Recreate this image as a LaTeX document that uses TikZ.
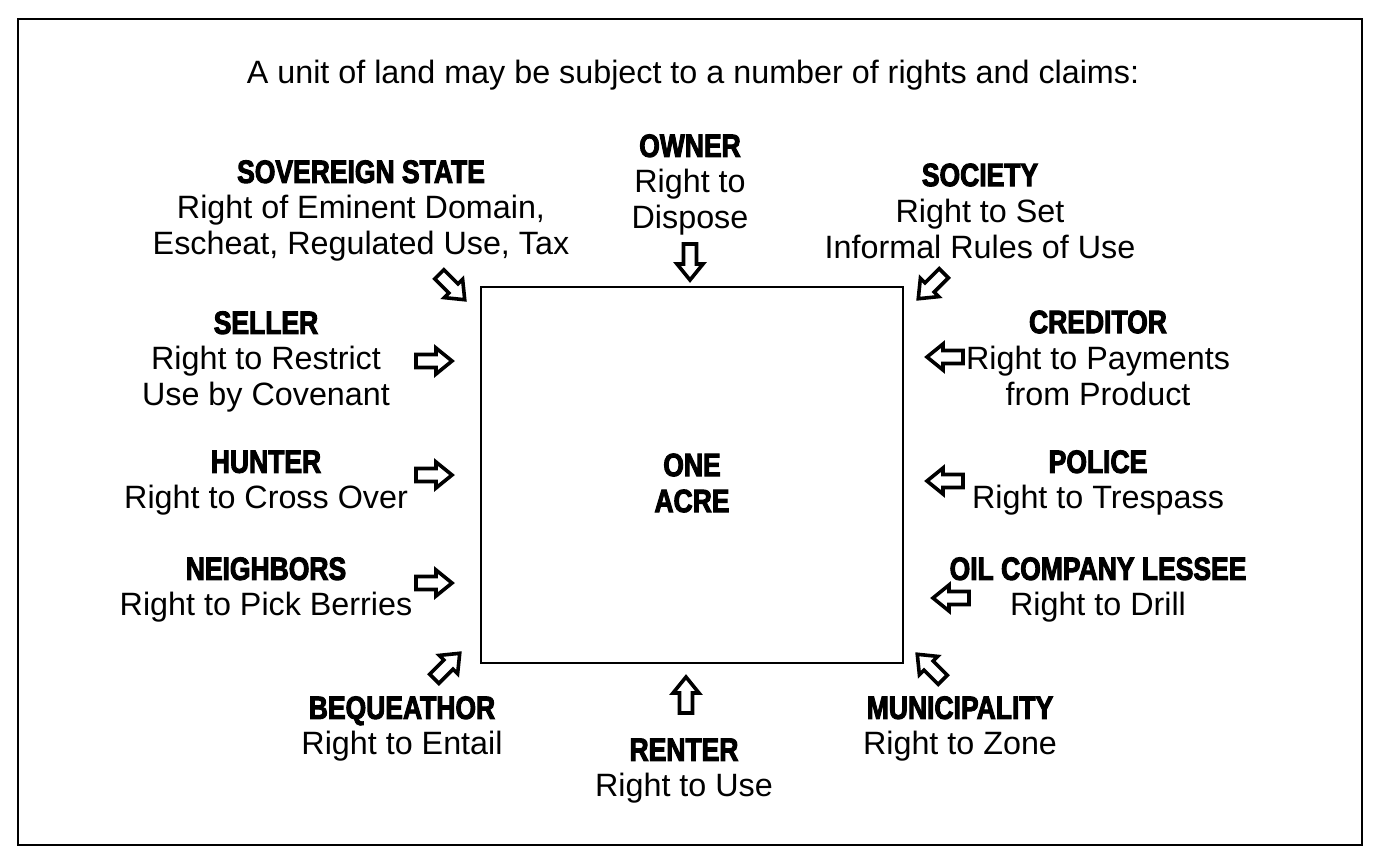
\documentclass[tikz,border=0pt]{standalone}
\usepackage{fontspec}
\setmainfont{Liberation Sans}
\newfontfamily\hdfont[FakeStretch=0.82,FakeBold=3]{Liberation Sans Bold}
\tikzset{
  lbl/.style={align=center,inner sep=0pt,font=\fontsize{32.3}{36}\selectfont},
  blockarrow/.pic={
    \draw[line width=3.6pt,line join=miter,fill=white]
      (-18,-6.5) -- (2,-6.5) -- (2,-13) -- (18,0) -- (2,13) -- (2,6.5) -- (-18,6.5) -- cycle;
  }
}
\newcommand{\hdl}[1]{{\hdfont #1}}
\begin{document}
\begin{tikzpicture}[x=1pt,y=-1pt]
\useasboundingbox (0,0) rectangle (1385,865);
\draw[line width=2.2pt] (18,19) rectangle (1362,845);
\node[lbl] (title) at (693,75) {A unit of land may be subject to a number of rights and claims:};
\node[draw,line width=2.8pt,minimum width=422pt,minimum height=376pt,inner sep=0pt] (acre) at (692,475) {};
\node[lbl] (acrelbl) at (692,483) {\hdl{ONE}\\\hdl{ACRE}};

\node[lbl] (owner) at (690,185) {\hdl{OWNER}\\Right to\\Dispose};
\node[lbl] (sov) at (361,211) {\hdl{SOVEREIGN STATE}\\Right of Eminent Domain,\\Escheat, Regulated Use, Tax};
\node[lbl] (soc) at (980,211) {\hdl{SOCIETY}\\Right to Set\\Informal Rules of Use};
\node[lbl] (seller) at (266,362) {\hdl{SELLER}\\Right to Restrict\\Use by Covenant};
\node[lbl] (cred) at (1098,358) {\hdl{CREDITOR}\\Right to Payments\\from Product};
\node[lbl] (hunter) at (266,483) {\hdl{HUNTER}\\Right to Cross Over};
\node[lbl] (police) at (1098,483) {\hdl{POLICE}\\Right to Trespass};
\node[lbl] (neigh) at (266,590) {\hdl{NEIGHBORS}\\Right to Pick Berries};
\node[lbl] (oil) at (1098,590) {\hdl{OIL COMPANY LESSEE}\\Right to Drill};
\node[lbl] (beq) at (402,729) {\hdl{BEQUEATHOR}\\Right to Entail};
\node[lbl] (renter) at (684,771) {\hdl{RENTER}\\Right to Use};
\node[lbl] (muni) at (960,729) {\hdl{MUNICIPALITY}\\Right to Zone};

\pic[rotate=-90] at (690,262) {blockarrow};
\pic[rotate=-45] at (452,287) {blockarrow};
\pic[rotate=-135] at (931,286) {blockarrow};
\pic at (434,361) {blockarrow};
\pic[rotate=180] at (945,357) {blockarrow};
\pic at (434,475) {blockarrow};
\pic[rotate=180] at (945,481) {blockarrow};
\pic at (434,583) {blockarrow};
\pic[rotate=180] at (951,598) {blockarrow};
\pic[rotate=45] at (447,666) {blockarrow};
\pic[rotate=90] at (686,695) {blockarrow};
\pic[rotate=135] at (930,667) {blockarrow};
\end{tikzpicture}
\end{document}
